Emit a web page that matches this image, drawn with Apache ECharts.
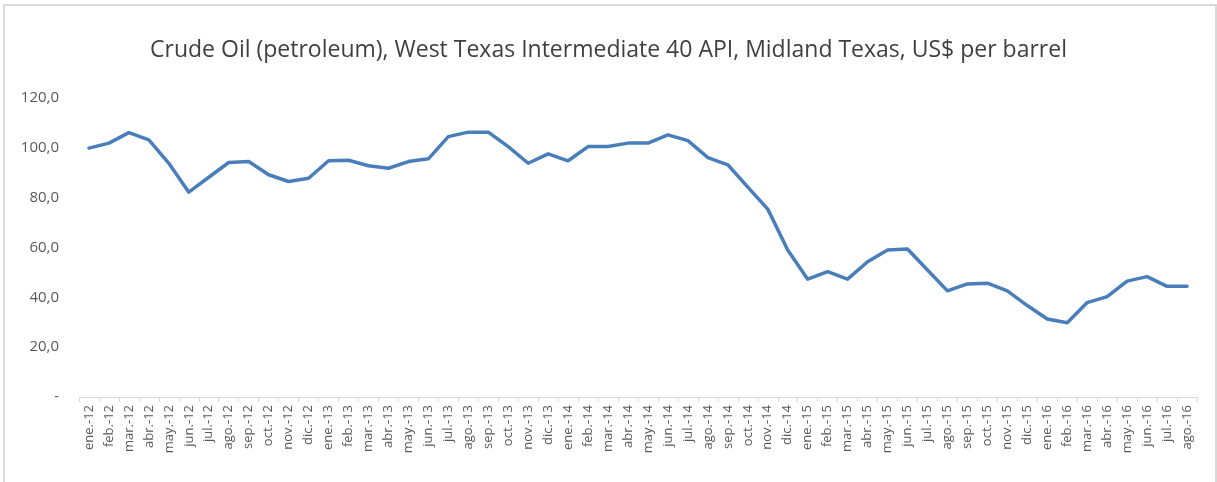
<!DOCTYPE html>
<html>
<head>
<meta charset="utf-8">
<script src="https://cdn.jsdelivr.net/npm/echarts@6/dist/echarts.min.js"></script>
<style>
  html, body { margin: 0; padding: 0; background: #fff; }
  #chart { width: 1217px; height: 482px; }
</style>
</head>
<body>
<div id="chart"></div>
<script>
// monthly WTI Midland prices
const months = [
  'ene.-12', 'feb.-12', 'mar.-12', 'abr.-12', 'may.-12', 'jun.-12', 'jul.-12', 'ago.-12', 'sep.-12', 'oct.-12', 'nov.-12', 'dic.-12',
  'ene.-13', 'feb.-13', 'mar.-13', 'abr.-13', 'may.-13', 'jun.-13', 'jul.-13', 'ago.-13', 'sep.-13', 'oct.-13', 'nov.-13', 'dic.-13',
  'ene.-14', 'feb.-14', 'mar.-14', 'abr.-14', 'may.-14', 'jun.-14', 'jul.-14', 'ago.-14', 'sep.-14', 'oct.-14', 'nov.-14', 'dic.-14',
  'ene.-15', 'feb.-15', 'mar.-15', 'abr.-15', 'may.-15', 'jun.-15', 'jul.-15', 'ago.-15', 'sep.-15', 'oct.-15', 'nov.-15', 'dic.-15',
  'ene.-16', 'feb.-16', 'mar.-16', 'abr.-16', 'may.-16', 'jun.-16', 'jul.-16', 'ago.-16'
];

const prices = [
  99.9, 101.9, 106.1, 103.2, 93.8, 82.2, 88.2, 94.1, 94.5, 89.2, 86.5, 87.8,
  94.8, 95.0, 92.8, 91.8, 94.5, 95.6, 104.5, 106.3, 106.3, 100.5, 93.8, 97.6,
  94.8, 100.5, 100.5, 101.9, 101.9, 105.2, 102.9, 96.1, 93.2, 84.2, 75.4, 59.0,
  47.3, 50.3, 47.3, 54.3, 59.0, 59.4, 51.0, 42.6, 45.4, 45.7, 42.6, 36.7,
  31.3, 29.8, 37.9, 40.3, 46.5, 48.3, 44.4, 44.4
];

const yTicks = [0, 20, 40, 60, 80, 100, 120];

const chart = echarts.init(document.getElementById('chart'));

const fmtY = (v) => (v === 0 ? '-' : v.toFixed(1).replace('.', ','));

const option = {
    backgroundColor: '#fff',
    animation: false,
    title: {
        text: 'Crude Oil (petroleum), West Texas Intermediate 40 API, Midland Texas, US$ per barrel',
        left: 'center',
        top: 34,
        textStyle: {
            fontFamily: 'Open Sans',
            fontSize: 23,
            fontWeight: 'normal',
            color: '#404040'
        }
    },
    graphic: [
        {
            type: 'rect',
            shape: { x: 4, y: 5, width: 1212, height: 500 },
            style: { fill: 'none', stroke: '#d9d9d9', lineWidth: 2 },
            silent: true
        }
    ],
    grid: { left: 79, right: 20, top: 98, bottom: 85 },
    xAxis: {
        type: 'category',
        data: months,
        boundaryGap: true,
        axisLine: { lineStyle: { color: '#d9d9d9', width: 1 } },
        axisTick: { show: true, length: 5, lineStyle: { color: '#d9d9d9' } },
        axisLabel: {
            interval: 0,
            rotate: 90,
            margin: 8,
            fontFamily: 'Open Sans',
            fontSize: 13,
            color: '#595959'
        },
        splitLine: { show: false }
    },
    yAxis: {
        type: 'value',
        min: yTicks[0],
        max: yTicks[yTicks.length - 1],
        interval: 20,
        axisLine: { show: false },
        axisTick: { show: false },
        splitLine: { show: false },
        axisLabel: {
            margin: 20,
            fontFamily: 'Open Sans',
            fontSize: 15,
            color: '#595959',
            formatter: fmtY
        }
    },
    series: [
        {
            type: 'line',
            data: prices,
            symbol: 'none',
            lineStyle: { color: '#4a7ebb', width: 3.5, join: 'round', cap: 'round' }
        }
    ]
};

chart.setOption(option);
</script>
</body>
</html>
